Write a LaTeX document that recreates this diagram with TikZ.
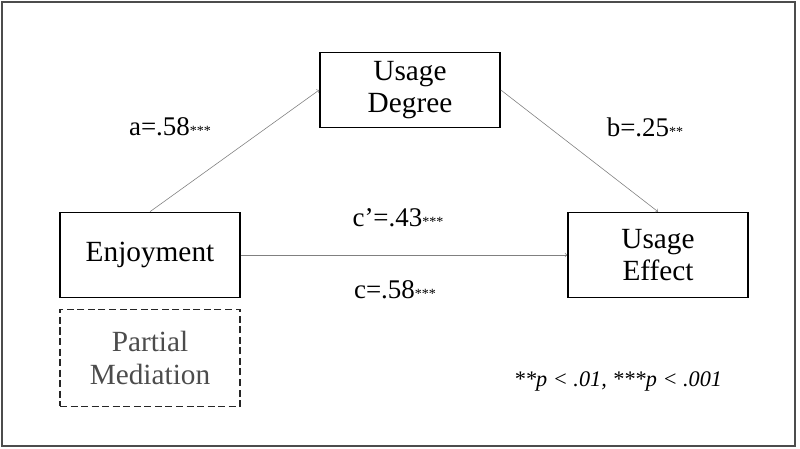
\documentclass[tikz,border=0pt]{standalone}
\usepackage{fontspec}
\setmainfont{Liberation Serif}
\usetikzlibrary{positioning}
\tikzset{
	box/.style={draw, line width=1.4pt, minimum width=5.4cm, minimum height=2.55cm, align=center, font=\fontsize{25}{28}\selectfont},
	path/.style={->, draw=gray, line width=0.5pt},
	coef/.style={font=\fontsize{23}{25}\selectfont}
}
\begin{document}
\begin{tikzpicture}[x=0.03cm, y=-0.03cm]

	\useasboundingbox (0,0) rectangle (800,449);
	\draw[black!70, line width=1pt] (2,2) rectangle (795,446);

	\node[box, minimum height=2.25cm] (degree) at (410,90) {Usage\\Degree};
	\node[box] (enjoy) at (150,255) {Enjoyment};
	\node[box] (effect) at (658,255) {Usage\\Effect};
	\node[box, dashed, dash pattern=on 6pt off 3pt, draw=black!85, text=black!70, minimum height=2.9cm] (partial) at (150,358) {Partial\\Mediation};

	\draw[path] (enjoy.north) -- (degree.west);
	\draw[path] (degree.east) -- (effect.north);
	\draw[path] (enjoy.east) -- (effect.west);

	% coefficients
	\node[coef] (a) at (170,127) {a=.58{\large***}};
	\node[coef] (b) at (645,127) {b=.25{\large**}};
	\node[coef] (cp) at (398,218) {c'=.43{\large***}};
	\node[coef] (c) at (395,290) {c=.58{\large***}};

	\node[font=\fontsize{19}{21}\selectfont\itshape] (note) at (618,381) {**p < .01, ***p < .001};

\end{tikzpicture}
\end{document}
